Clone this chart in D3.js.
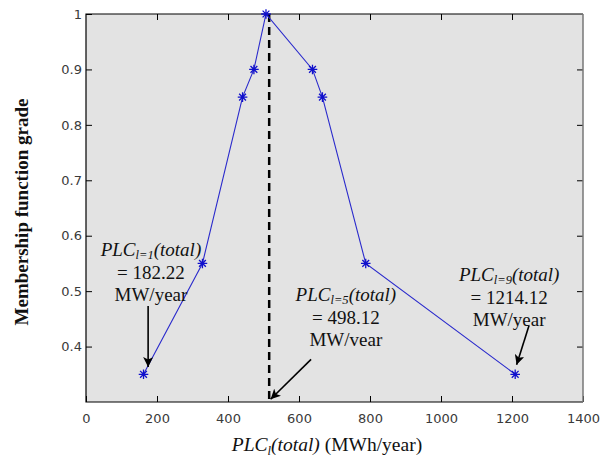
<!DOCTYPE html>
<html>
<head>
<meta charset="utf-8">
<script src="https://cdn.jsdelivr.net/npm/d3@7"></script>
<style>
  html, body { margin: 0; padding: 0; background: #fff; }
  svg { display: block; }
  .serif { font-family: "Liberation Serif", "DejaVu Serif", "Times New Roman", Times, serif; }
  .sans { font-family: "DejaVu Sans", sans-serif; }
</style>
</head>
<body>
<svg id="chart" width="600" height="459"></svg>
<script>
// ---- data ----
const xValues = [162, 328, 441, 473, 507, 638, 666, 788, 1209];
const yValues = [0.35, 0.55, 0.85, 0.9, 1.0, 0.9, 0.85, 0.55, 0.35];
const xTicks = [0, 200, 400, 600, 800, 1000, 1200, 1400];
const yTicks = [0.4, 0.5, 0.6, 0.7, 0.8, 0.9, 1];
const yTickLabels = ["0.4", "0.5", "0.6", "0.7", "0.8", "0.9", "1"];
const dashedX = 516;
// annotations: text center x, first-line baseline y (data units)
const annSub = ["l=1", "l=5", "l=9"];
const annValue = ["= 182.22", "= 498.12", "= 1214.12"];
const annUnit = ["MW/year", "MW/vear", "MW/year"];
const annX = [183, 732, 1192];
const annY = [0.563, 0.482, 0.518];
// arrows: start (x1,y1) -> tip (x2,y2), data units
const arrX1 = [175, 634, 1248];
const arrY1 = [0.473, 0.377, 0.438];
const arrX2 = [175, 520, 1213];
const arrY2 = [0.363, 0.305, 0.367];

// ---- layout ----
const L = 86, R = 583, T = 14, B = 402;
const x = d3.scaleLinear().domain([0, 1400]).range([L, R]);
const y = d3.scaleLinear().domain([0.3, 1]).range([B, T]);

const svg = d3.select("#chart");

svg.append("defs").append("marker")
  .attr("id", "ah").attr("viewBox", "0 0 10 10")
  .attr("refX", 10).attr("refY", 5)
  .attr("markerWidth", 10).attr("markerHeight", 10)
  .attr("markerUnits", "userSpaceOnUse")
  .attr("orient", "auto")
  .append("path").attr("d", "M0,0 L10,5 L0,10 L2.5,5 Z").attr("fill", "#000");

// background
svg.append("rect").attr("x", L).attr("y", T).attr("width", R - L).attr("height", B - T)
  .attr("fill", "#e3e3e3");

// axes with inward ticks
const tl = 6;
svg.append("g").attr("transform", `translate(0,${B})`)
  .call(d3.axisBottom(x).tickValues(xTicks).tickSize(-tl).tickPadding(12).tickFormat(d => String(d)))
  .call(g => g.select(".domain").remove());
svg.append("g").attr("transform", `translate(0,${T})`)
  .call(d3.axisTop(x).tickValues(xTicks.slice(1, -1)).tickSize(-tl).tickFormat(""))
  .call(g => g.select(".domain").remove());
svg.append("g").attr("transform", `translate(${L},0)`)
  .call(d3.axisLeft(y).tickValues(yTicks).tickSize(-tl).tickPadding(4)
    .tickFormat((d, i) => yTickLabels[i]))
  .call(g => g.select(".domain").remove());
svg.append("g").attr("transform", `translate(${R},0)`)
  .call(d3.axisRight(y).tickValues(yTicks.slice(0, -1)).tickSize(-tl).tickFormat(""))
  .call(g => g.select(".domain").remove());

svg.selectAll(".tick line").attr("stroke", "#000").attr("stroke-width", 1);
svg.selectAll(".tick text").attr("font-family", null).attr("class", "sans")
  .style("font-size", "13px").attr("fill", "#3a3a3a");

// frame
svg.append("path").attr("d", `M${R},${T} L${L},${T} L${L},${B} L${R},${B}`)
  .attr("fill", "none").attr("stroke", "#000").attr("stroke-width", 1.2);
svg.append("line").attr("x1", R).attr("x2", R).attr("y1", T).attr("y2", B)
  .attr("stroke", "#777").attr("stroke-width", 1.5);

// dashed vertical line
svg.append("line").attr("x1", x(dashedX)).attr("x2", x(dashedX))
  .attr("y1", y(1)).attr("y2", y(0.3))
  .attr("stroke", "#000").attr("stroke-width", 2.5).attr("stroke-dasharray", "8,5");

// series line
const pts = xValues.map((v, i) => [v, yValues[i]]);
svg.append("path").datum(pts)
  .attr("d", d3.line().x(d => x(d[0])).y(d => y(d[1])))
  .attr("fill", "none").attr("stroke", "#2a2acc").attr("stroke-width", 1.1);

// asterisk markers
const s = 4.8, dgn = 3.4;
const star = `M${-s},0 L${s},0 M0,${-s} L0,${s} M${-dgn},${-dgn} L${dgn},${dgn} M${-dgn},${dgn} L${dgn},${-dgn}`;
svg.append("g").selectAll("path").data(pts).join("path")
  .attr("transform", d => `translate(${x(d[0])},${y(d[1])})`)
  .attr("d", star).attr("fill", "none").attr("stroke", "#1010cc").attr("stroke-width", 1.3);

// arrows
svg.append("g").selectAll("line").data(arrX1).join("line")
  .attr("x1", (d, i) => x(arrX1[i])).attr("y1", (d, i) => y(arrY1[i]))
  .attr("x2", (d, i) => x(arrX2[i])).attr("y2", (d, i) => y(arrY2[i]))
  .attr("stroke", "#000").attr("stroke-width", 1.6).attr("marker-end", "url(#ah)");

// annotations (one multi-line text element each)
const fs = "19px";
const ann = svg.append("g").attr("class", "serif").style("font-size", fs).attr("fill", "#111");
annX.forEach((ax, i) => {
  const cx = x(ax), by = y(annY[i]);
  const t = ann.append("text").attr("x", cx).attr("y", by).attr("text-anchor", "middle");
  t.append("tspan").style("font-style", "italic").text("PLC");
  t.append("tspan").style("font-style", "italic").style("font-size", "12.5px").attr("dy", 2.5).text(annSub[i]);
  t.append("tspan").style("font-style", "italic").attr("dy", -2.5).text("(total)");
  t.append("tspan").attr("x", cx).attr("y", by + 22.8).text(annValue[i]);
  t.append("tspan").attr("x", cx).attr("y", by + 44.5).text(annUnit[i]);
});

// x label
const xl = svg.append("text").attr("class", "serif").attr("x", 327).attr("y", 451).attr("text-anchor", "middle")
  .style("font-size", "19.5px").attr("fill", "#111");
xl.append("tspan").style("font-style", "italic").text("PLC");
xl.append("tspan").style("font-style", "italic").style("font-size", "12.5px").attr("dy", 4).text("l");
xl.append("tspan").style("font-style", "italic").attr("dy", -4).text("(total)");
xl.append("tspan").text(" (MWh/year)");

// y label
svg.append("text").attr("class", "serif").attr("transform", "translate(28,212) rotate(-90)")
  .attr("text-anchor", "middle").style("font-weight", "bold")
  .style("font-size", "19px").attr("fill", "#111").text("Membership function grade");
</script>
</body>
</html>
